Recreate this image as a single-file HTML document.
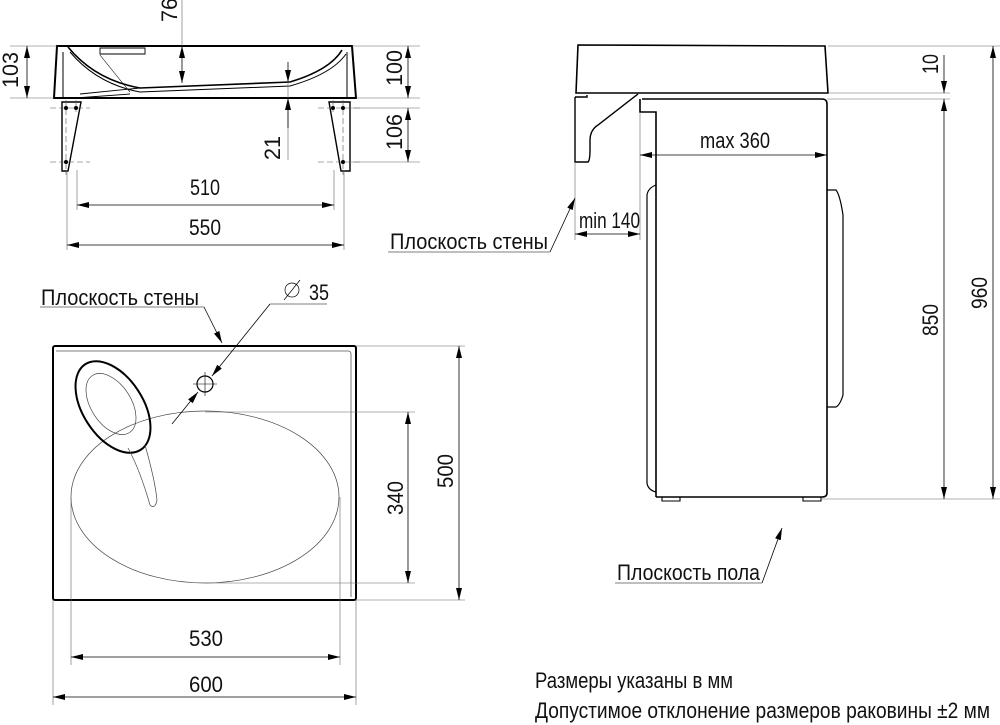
<!DOCTYPE html>
<html><head><meta charset="utf-8"><style>
html,body{margin:0;padding:0;background:#fff;}
svg{display:block;}
text{font-family:"Liberation Sans",sans-serif;fill:#111;}
</style></head><body>
<svg width="1000" height="725" viewBox="0 0 1000 725" xmlns="http://www.w3.org/2000/svg">
<defs>
<marker id="a" viewBox="0 0 12 6" refX="12" refY="3" markerWidth="12" markerHeight="6" markerUnits="userSpaceOnUse" orient="auto-start-reverse"><path d="M0,0 L12,3 L0,6 z" fill="#000"/></marker>
</defs>
<g fill="none" stroke="#000">
<path d="M57,46 L352,46 L356,98 L54,98 Z" stroke-width="2"/>
<path d="M63,52 L63,98 M347,52 L347,98" stroke-width="1"/>
<path d="M68,47 Q95,80 140,88 L290,82 Q330,70 342,50" stroke-width="1.6"/>
<path d="M70,52 Q97,84 140,92 L290,86 Q332,74 346,54" stroke-width="1"/>
<path d="M100,48 L145,48 L145,54 L100,54 Z M140,88 L80,94 M75,98 L130,94" stroke-width="0.9"/>
<path d="M100,55 Q120,80 130,92" stroke-width="0.6"/>
<path d="M62,102 L81,102 L68,171 L62,171 Z" stroke-width="1.4"/>
<path d="M329,102 L350,102 L350,171 L341,171 Z" stroke-width="1.4"/>
<g stroke-width="0.6" stroke-dasharray="6,3" stroke="#555">
<path d="M50,108 L90,108 M50,162 L90,162 M318,108 L360,108 M318,162 L360,162"/>
<path d="M66,100 L66,175 M76,100 L76,112 M343,100 L343,175 M333,100 L333,112"/>
</g>
<g fill="#000" stroke="none"><circle cx="66" cy="108" r="2"/><circle cx="76" cy="108" r="2"/><circle cx="66" cy="162" r="2"/><circle cx="333" cy="108" r="2"/><circle cx="343" cy="108" r="2"/><circle cx="343" cy="162" r="2"/></g>
<g stroke-width="0.6" stroke="#666">
<path d="M10,46 L57,46 M10,98 L54,98 M352,46 L420,46 M356,98 L420,98 M350,108 L420,108 M350,162 L420,162"/>
<path d="M67,170 L67,250 M77,170 L77,210 M334,170 L334,210 M344,170 L344,250"/>
<path d="M182,0 L182,46 M288,80 L288,160"/>
</g>
<g stroke-width="0.8" stroke="#000">
<line x1="27" y1="46" x2="27" y2="98" marker-start="url(#a)" marker-end="url(#a)"/>
<line x1="182" y1="46" x2="182" y2="83" marker-start="url(#a)" marker-end="url(#a)"/>
<line x1="408" y1="46" x2="408" y2="98" marker-start="url(#a)" marker-end="url(#a)"/>
<line x1="408" y1="108" x2="408" y2="162" marker-start="url(#a)" marker-end="url(#a)"/>
<line x1="288" y1="62" x2="288" y2="82" marker-end="url(#a)"/>
<line x1="288" y1="128" x2="288" y2="98" marker-end="url(#a)"/>
<line x1="77" y1="205" x2="334" y2="205" marker-start="url(#a)" marker-end="url(#a)"/>
<line x1="67" y1="245" x2="344" y2="245" marker-start="url(#a)" marker-end="url(#a)"/>
</g>
<path d="M578,45 L825,46 L828,93 L576,93 Z" stroke-width="1.6"/>
<path d="M575,97 L587,97 L587,95 M575,97 L575,162 L588,162 Q590,160 590,150 L590,140 Q590,130 598,125 L638,94" stroke-width="1.4"/>
<path d="M642,99 L822,99 Q827,99 827,104 L827,493 Q827,497 822,497 L656,497 M640,99 L640,112 L656,112 L656,497" stroke-width="1.6"/>
<path d="M656,185 Q648,188 647,195 L647,483 Q648,490 656,492" stroke-width="1.2"/>
<path d="M827,190 L836,190 Q840,195 843,215 L843,395 Q840,405 836,407 L827,407" stroke-width="1.2"/>
<path d="M662,497 L662,501 L680,501 L680,497 M803,497 L803,501 L821,501 L821,497" stroke-width="1.1"/>
<g stroke-width="0.6" stroke="#666">
<path d="M828,46 L1000,46 M828,93 L950,93 M827,99 L950,99 M822,499 L1000,499"/>
<path d="M575,162 L575,240 M640,112 L640,240"/>
</g>
<g stroke-width="0.8" stroke="#000">
<line x1="944" y1="55" x2="944" y2="93" marker-end="url(#a)"/>
<line x1="944" y1="99" x2="944" y2="499" marker-start="url(#a)" marker-end="url(#a)"/>
<line x1="993" y1="46" x2="993" y2="499" marker-start="url(#a)" marker-end="url(#a)"/>
<line x1="640" y1="155" x2="827" y2="155" marker-start="url(#a)" marker-end="url(#a)"/>
<line x1="575" y1="234" x2="640" y2="234" marker-start="url(#a)" marker-end="url(#a)"/>
<line x1="550" y1="252" x2="575" y2="198" marker-end="url(#a)"/>
<line x1="762" y1="583" x2="782" y2="528" marker-end="url(#a)"/>
</g>
<path d="M388,252 L550,252 M615,583 L762,583" stroke-width="0.8" stroke="#555"/>
<rect x="53" y="346" width="303" height="254" rx="2" stroke-width="2"/>
<path d="M56,351 L348,351 Q351,351 351,354 L351,597" stroke-width="0.8" stroke="#555"/>
<ellipse cx="205" cy="497" rx="134" ry="86" stroke-width="0.7" stroke="#444"/>
<ellipse cx="113" cy="407" rx="30" ry="51" transform="rotate(-33 113 407)" stroke-width="2"/>
<ellipse cx="111" cy="404" rx="20" ry="34" transform="rotate(-33 111 404)" stroke-width="0.7" stroke="#444"/>
<path d="M128,448 Q140,470 150,505 Q155,510 157,500 Q155,480 145,445" stroke-width="0.7" stroke="#444"/>
<circle cx="205" cy="384" r="8" stroke-width="1.2"/>
<path d="M193,384 L217,384 M205,372 L205,396" stroke-width="0.6"/>
<g stroke-width="0.6" stroke="#666">
<path d="M356,346 L465,346 M356,600 L465,600 M205,412 L415,412 M205,583 L415,583"/>
<path d="M53,600 L53,705 M356,600 L356,705 M71,497 L71,665 M340,497 L340,665"/>
</g>
<g stroke-width="0.8" stroke="#000">
<line x1="408" y1="412" x2="408" y2="583" marker-start="url(#a)" marker-end="url(#a)"/>
<line x1="459" y1="346" x2="459" y2="600" marker-start="url(#a)" marker-end="url(#a)"/>
<line x1="71" y1="657" x2="340" y2="657" marker-start="url(#a)" marker-end="url(#a)"/>
<line x1="53" y1="697" x2="356" y2="697" marker-start="url(#a)" marker-end="url(#a)"/>
<line x1="204" y1="307" x2="222" y2="343" marker-end="url(#a)"/>
<line x1="270" y1="304" x2="212" y2="376" marker-end="url(#a)"/>
<line x1="172" y1="424" x2="198" y2="392" marker-end="url(#a)"/>
</g>
<path d="M40,307 L204,307 M270,304 L327,304" stroke-width="0.8" stroke="#555"/>
<circle cx="292" cy="290" r="7" stroke-width="0.7"/><path d="M284,300 L300,280" stroke-width="0.7"/>
</g>
<g font-size="22">
<text x="0" y="0" transform="translate(18,88) rotate(-90)" textLength="36" lengthAdjust="spacingAndGlyphs">103</text>
<text x="0" y="0" transform="translate(177,22) rotate(-90)" textLength="24" lengthAdjust="spacingAndGlyphs">76</text>
<text x="0" y="0" transform="translate(402,86) rotate(-90)" textLength="36" lengthAdjust="spacingAndGlyphs">100</text>
<text x="0" y="0" transform="translate(402,150) rotate(-90)" textLength="36" lengthAdjust="spacingAndGlyphs">106</text>
<text x="0" y="0" transform="translate(280,160) rotate(-90)" textLength="24" lengthAdjust="spacingAndGlyphs">21</text>
<text x="190" y="195" textLength="30" lengthAdjust="spacingAndGlyphs">510</text>
<text x="189" y="235" textLength="32" lengthAdjust="spacingAndGlyphs">550</text>
<text x="390" y="249" textLength="158" lengthAdjust="spacingAndGlyphs">Плоскость стены</text>
<text x="579" y="228" textLength="61" lengthAdjust="spacingAndGlyphs">min 140</text>
<text x="700" y="148" textLength="70" lengthAdjust="spacingAndGlyphs">max 360</text>
<text x="0" y="0" transform="translate(938,74) rotate(-90)" textLength="20" lengthAdjust="spacingAndGlyphs">10</text>
<text x="0" y="0" transform="translate(938,336) rotate(-90)" textLength="32" lengthAdjust="spacingAndGlyphs">850</text>
<text x="0" y="0" transform="translate(987,309) rotate(-90)" textLength="32" lengthAdjust="spacingAndGlyphs">960</text>
<text x="617" y="580" textLength="143" lengthAdjust="spacingAndGlyphs">Плоскость пола</text>
<text x="41" y="305" textLength="158" lengthAdjust="spacingAndGlyphs">Плоскость стены</text>
<text x="309" y="300" textLength="20" lengthAdjust="spacingAndGlyphs">35</text>
<text x="0" y="0" transform="translate(403,515) rotate(-90)" textLength="34" lengthAdjust="spacingAndGlyphs">340</text>
<text x="0" y="0" transform="translate(453,488) rotate(-90)" textLength="34" lengthAdjust="spacingAndGlyphs">500</text>
<text x="189" y="646" textLength="34" lengthAdjust="spacingAndGlyphs">530</text>
<text x="189" y="692" textLength="34" lengthAdjust="spacingAndGlyphs">600</text>
<text x="535" y="688" textLength="198" lengthAdjust="spacingAndGlyphs">Размеры указаны в мм</text>
<text x="535" y="718" textLength="455" lengthAdjust="spacingAndGlyphs">Допустимое отклонение размеров раковины ±2 мм</text>
</g>
</svg>
</body></html>
